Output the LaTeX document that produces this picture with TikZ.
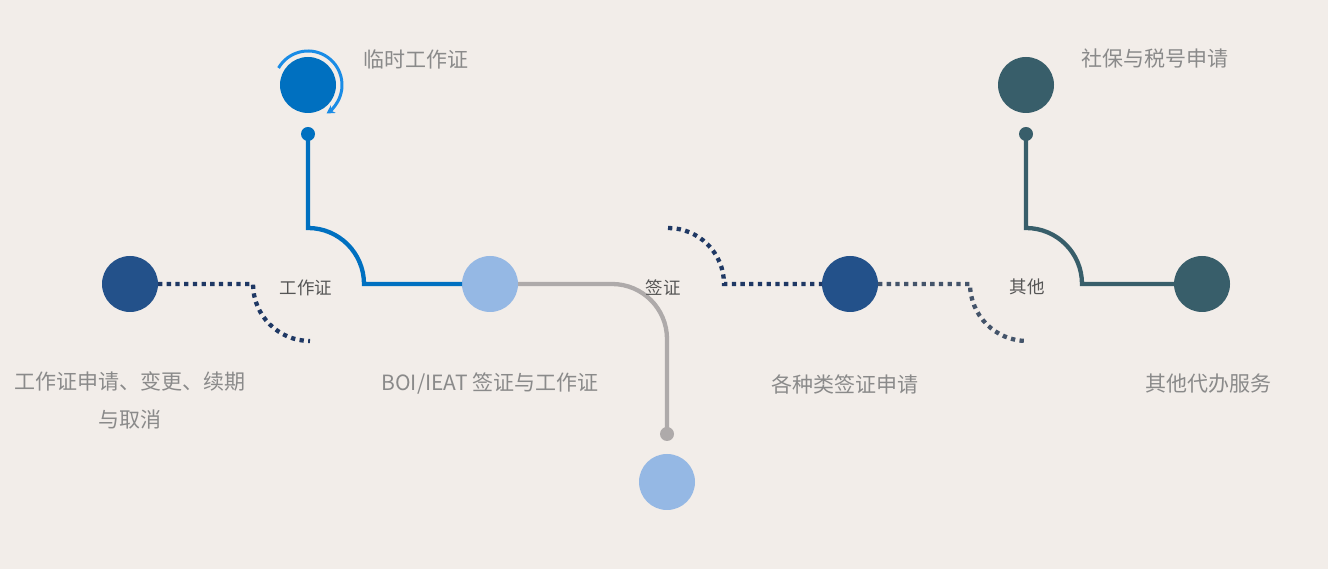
\documentclass[tikz,border=0pt]{standalone}
\usepackage{fontspec}
\setmainfont{Noto Sans CJK SC}
\usetikzlibrary{positioning,arrows.meta,calc}
\definecolor{paper}{HTML}{F2EDE9}
\definecolor{navy}{HTML}{23518A}
\definecolor{deepnavy}{HTML}{1F3864}
\definecolor{slatenavy}{HTML}{44546A}
\definecolor{mainblue}{HTML}{0070C0}
\definecolor{ringblue}{HTML}{1A8CE6}
\definecolor{paleblue}{HTML}{95B8E4}
\definecolor{linegray}{HTML}{AEAAAA}
\definecolor{teal}{HTML}{385E6A}
\definecolor{textgray}{HTML}{8A8A8A}
\definecolor{tagtext}{HTML}{555555}
\begin{document}
\begin{tikzpicture}[x=1pt,y=1pt]
                        \tikzstyle{every node}=[inner sep=0,outer sep=0]
                        \tikzstyle{ball}=[circle,minimum size=56]
                        \tikzstyle{pin}=[circle,minimum size=14]
                        \tikzstyle{label}=[text=textgray,font=\fontsize{21}{38}\selectfont,align=center]
                        \tikzstyle{tag}=[text=tagtext,font=\fontsize{17.5}{20}\selectfont]
                        \tikzstyle{wire}=[line width=4.3]
                        \tikzstyle{dots}=[line width=4.3,dash pattern=on 4.3 off 4.4]
                        {
                            \fill[paper] (0,0) rectangle (1328,569);
                            \useasboundingbox (0,0) rectangle (1328,569);

                            % circles
                            \node[ball,fill=navy] (apply) at (130,285) {};
                            \node[ball,fill=mainblue] (temp) at (308,484) {};
                            \node[pin,fill=mainblue] (temppin) at (308,435) {};
                            \node[ball,fill=paleblue] (boi) at (490,285) {};
                            \node[pin,fill=linegray] (boipin) at (667,135) {};
                            \node[ball,fill=paleblue] (boilow) at (667,87) {};
                            \node[ball,fill=navy] (visa) at (850,285) {};
                            \node[ball,fill=teal] (social) at (1026,484) {};
                            \node[pin,fill=teal] (socialpin) at (1026,435) {};
                            \node[ball,fill=teal] (other) at (1202,285) {};

                            % ring round the top circle
                            \draw[ringblue,line width=3,-{Stealth[length=8,width=9]}]
                                (temp.center) ++(150:34) arc[start angle=150,end angle=-57,radius=34];

                            % connectors
                            \draw[wire,mainblue] (temppin.center) -- (308,341)
                                arc[start angle=90,end angle=0,radius=56] -- (boi.west);
                            \draw[wire,linegray] (boi.east) -- (612,285)
                                arc[start angle=90,end angle=0,radius=55] -- (boipin.center);
                            \draw[wire,teal] (socialpin.center) -- (1026,341)
                                arc[start angle=90,end angle=0,radius=56] -- (other.west);

                            \draw[dots,deepnavy] (apply.east) -- (253,285)
                                arc[start angle=180,end angle=270,radius=57];
                            \draw[dots,deepnavy] (668,341)
                                arc[start angle=90,end angle=0,radius=56] -- (visa.west);
                            \draw[dots,slatenavy] (visa.east) -- (970,285)
                                arc[start angle=180,end angle=270,radius=57];

                            % texts
                            \node[label] (templabel) at (416,510) {临时工作证};
                            \node[label] (sociallabel) at (1155,510) {社保与税号申请};
                            \node[label,anchor=north] (applylabel) at (130,197) {工作证申请、变更、续期\\与取消};
                            \node[label] (boilabel) at (490,185) {BOI/IEAT 签证与工作证};
                            \node[label] (visalabel) at (845,185) {各种类签证申请};
                            \node[label] (otherlabel) at (1208,185) {其他代办服务};

                            \node[tag] (worktag) at (306,281) {工作证};
                            \node[tag] (visatag) at (663,281) {签证};
                            \node[tag] (othertag) at (1027,282) {其他};
                        }
                    \end{tikzpicture}
\end{document}
